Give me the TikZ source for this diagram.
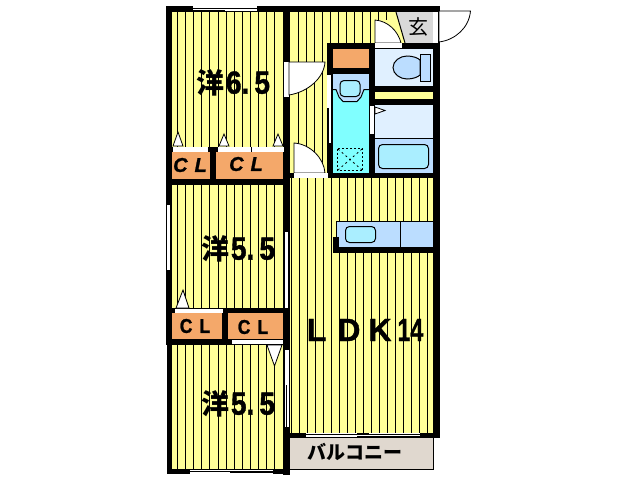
\documentclass[tikz,border=0pt]{standalone}
\usepackage{fontspec}
\setmainfont{Liberation Sans}
\newfontfamily\cjk{Noto Sans CJK JP}
\newfontfamily\lbl{Liberation Sans Bold}[FakeBold=1.2,FakeStretch=0.88]
\newfontfamily\lblwide{Liberation Sans Bold}[FakeBold=1.2,FakeStretch=1.0]
\newfontfamily\lblnar{Liberation Sans Bold}[FakeBold=1.2,FakeStretch=0.72]
\newfontfamily\lblit{Liberation Sans Bold Italic}[FakeBold=1.2]
\definecolor{flooryel}{HTML}{FFFF99}
\definecolor{closet}{HTML}{F4A86A}
\definecolor{paleblue}{HTML}{E0F0FF}
\definecolor{midblue}{HTML}{BBDDFF}
\definecolor{aqua}{HTML}{80FFFF}
\definecolor{basin}{HTML}{AAEEFF}
\definecolor{genkan}{HTML}{D9D9D9}
\definecolor{balc}{HTML}{E0D8CF}
\tikzset{
  thinline/.style={draw=black,line width=1pt},
  stripe/.style={draw=black,line width=1pt},
  door/.style={fill=white,draw=black,line width=0.8pt},
  roomlabel/.style={inner sep=0pt,font=\lbl\fontsize{32}{32}\selectfont},
  cllabel/.style={inner sep=0pt,font=\lbl\fontsize{20}{20}\selectfont},
  clitlabel/.style={inner sep=0pt,font=\lblit\fontsize{20}{20}\selectfont},
}
\newcommand{\W}[4]{\fill[black] (#1,#2) rectangle (#3,#4);}
\newcommand{\Wh}[4]{\fill[white] (#1,#2) rectangle (#3,#4);}
\newcommand{\Rc}[5]{\fill[#1] (#2,#3) rectangle (#4,#5);}
\newcommand{\Yo}{{\cjk\bfseries\fontsize{28}{28}\selectfont 洋}}
\begin{document}
\begin{tikzpicture}[x=1pt,y=-1pt]
\useasboundingbox (0,0) rectangle (638,480);
% floors
\Rc{flooryel}{172}{12}{284}{470}
\Rc{flooryel}{290}{178}{434}{433}
\Rc{flooryel}{290}{12}{396}{173}
% stripes
\foreach \x in {177.5,185.6,...,276} {
  \draw[stripe] (\x,12) -- (\x,147);
  \draw[stripe] (\x,185) -- (\x,309);
  \draw[stripe] (\x,345) -- (\x,469);
}
\foreach \x in {291.5,299.5,...,433} \draw[stripe] (\x,178) -- (\x,433);
\foreach \x in {298.5,306.5,...,394} \draw[stripe] (\x,12) -- (\x,43);
\foreach \x in {298.5,306.5,314.5,322.5} \draw[stripe] (\x,43) -- (\x,173);
% genkan
\fill[flooryel] (396,12) -- (405,43) -- (375,43) -- (375,20) -- (396,20) -- cycle;
\fill[genkan] (396,12) -- (434,12) -- (434,43) -- (405,43) -- cycle;
\draw[thinline] (396,12) -- (405,43);
% closets
\Rc{closet}{172}{152}{284}{179}
\Rc{closet}{172}{313}{284}{339}
\Rc{closet}{333}{49}{369}{68}
% wet rooms
\Rc{aqua}{333}{74}{369}{173}
\Rc{paleblue}{375}{48}{433}{86}
\Rc{flooryel}{375}{92}{433}{99}
\Rc{paleblue}{375}{105}{433}{173}
\Rc{midblue}{375}{138}{433}{173}
\draw[thinline] (375,138.5) -- (433,138.5);
\draw[thinline,fill=basin,rounded corners=4pt] (378.5,144.5) rectangle (428.5,168.5);
% toilet
\draw[thinline,fill=midblue] (393,67.5) .. controls (393,61) and (400,56) .. (407,56) .. controls (413,56) and (418,58) .. (420,60) -- (420,75) .. controls (418,77) and (413,79) .. (407,79) .. controls (400,79) and (393,74) .. (393,67.5) -- cycle;
\draw[thinline,fill=midblue] (420,54.5) rectangle (430.5,81.5);
% washbasin
\fill[midblue] (333,74) -- (369,74) -- (369,89) -- (364,89) -- (361,97) -- (357,101) -- (343,101) -- (339,97) -- (336,89) -- (333,89) -- cycle;
\draw[thinline] (333,89.5) -- (336,89.5) -- (339,97) -- (343,101.5) -- (357,101.5) -- (361,97) -- (364,89.5) -- (369,89.5);
\draw[thinline,fill=basin,rounded corners=4pt] (340,80.5) rectangle (360,96.5);
% drain
\draw[line width=0.8pt,dash pattern=on 2pt off 2pt] (337.5,148.5) rectangle (362.5,170.5);
\draw[line width=0.8pt,dash pattern=on 2pt off 3pt] (338,149) -- (362,170) (362,149) -- (338,170);
% kitchen
\Rc{midblue}{336}{221}{434}{247}
\draw[thinline] (336.5,221.5) -- (434,221.5) (336.5,221) -- (336.5,240);
\draw[thinline] (400.5,221) -- (400.5,247);
\draw[thinline,fill=basin,rounded corners=4pt] (345.5,226.5) rectangle (375.5,242.5);
\W{333}{247}{434}{253}
\W{333}{237}{339}{247}
% balcony
\Rc{balc}{290}{437}{433}{469}
\draw[thinline] (290,437.5) -- (433.5,437.5) -- (433.5,469.5) -- (290,469.5);
% walls
\W{166}{6}{290}{12}
\W{290}{6}{439}{12}
\W{166}{6}{172}{345}
\W{167}{345}{172}{474}
\W{167}{469}{290}{474}
\W{283}{6}{290}{475}
% closet walls upper
\W{166}{147}{290}{152}
\W{210}{147}{216}{179}
\W{166}{179}{290}{185}
\W{166}{308}{290}{313}
\W{222}{308}{228}{345}
\W{166}{339}{290}{345}
% wet block walls
\W{327}{43}{439}{49}
\W{327}{43}{333}{178}
\W{369}{43}{375}{178}
\W{327}{68}{375}{74}
\W{375}{86}{439}{92}
\W{375}{99}{439}{105}
\W{433}{6}{440}{437}
\W{289}{173}{440}{178}
% balcony walls
\W{284}{433}{306}{438}
\W{420}{433}{440}{438}
\W{284}{433}{290}{473}
% windows
\Wh{193}{6}{257}{11}
\draw[line width=0.7pt] (193,8) -- (225,8) (193,10) -- (225,10) (225,8.5) -- (257,8.5);
\Wh{166}{205}{170}{270}
\draw[line width=0.6pt] (166.5,205) -- (166.5,270);
\Wh{190}{470}{273}{474}
\draw[line width=0.7pt] (190,471) -- (273,471) (230,472.5) -- (273,472.5);
\Wh{306}{433}{420}{437}
\draw[line width=0.7pt] (306,434.5) -- (420,434.5) (357,433) -- (369,433) (357,436) -- (420,436);
\Wh{285}{232}{288}{308}
\Wh{285}{350}{289}{427}
\draw[line width=0.6pt] (286.5,385) -- (286.5,427);
% closet sliding strips
\Wh{173}{147}{208}{152}
\Wh{218}{147}{284}{152}
\draw[line width=0.6pt] (251.5,147) -- (251.5,152);
\Wh{175}{309}{223}{313}
\Wh{232}{340}{283}{344}
% triangles
\draw[door] (173,146) -- (178,132) -- (183,146) -- cycle;
\draw[door] (219,146) -- (224,134) -- (229,146) -- cycle;
\draw[door] (273,146) -- (278,134) -- (283,146) -- cycle;
\draw[door] (176,308) -- (183,290) -- (189,308) -- cycle;
\draw[door] (267,345) -- (282,345) -- (274.5,366) -- cycle;
\draw[door] (375,107) -- (385,110.5) -- (375,114) -- cycle;
% doors
\Wh{284}{62}{289}{97}
\draw[door] (289,62) -- (325,62) .. controls (324,78) and (308,92) .. (289,95) -- cycle;
\draw[door] (294,173) -- (294,143) .. controls (310,144) and (324,158) .. (325,173) -- cycle;
\Wh{294}{173}{328}{178}
\Wh{433}{12}{438}{43}
\draw[door] (439,11) -- (470.5,11) .. controls (469,28) and (455,40) .. (439,42) -- cycle;
\draw[door] (375,43) -- (375,20) .. controls (388,21) and (398,31) .. (401,43) -- cycle;
\Wh{375}{43}{402}{48}
\Wh{370}{106}{374}{134}
\Wh{327}{75}{331}{108}
\Wh{328.5}{108}{330.5}{143}
% labels
\node[roomlabel] (r1) at (233.5,83) {\Yo\hspace{1pt}6.\hspace{5pt}5};
\node[roomlabel] (r2) at (238.5,249) {\Yo\hspace{1pt}5.\hspace{5pt}5};
\node[roomlabel] (r3) at (238.5,404) {\Yo\hspace{1pt}5.\hspace{5pt}5};
\node[inner sep=0pt,font=\lblwide\fontsize{32}{32}\selectfont] (ldk) at (365,330) {L\hspace{11pt}D\hspace{8pt}K\hspace{6pt}{\lblnar\fontsize{32}{32}\selectfont 14}};
\node[clitlabel] (c1) at (190,165) {C\hspace{7pt}L};
\node[clitlabel] (c2) at (246,164) {C\hspace{7pt}L};
\node[cllabel] (c3) at (195,326) {C\hspace{7pt}L};
\node[cllabel] (c4) at (253,327) {C\hspace{7pt}L};
\node[inner sep=0pt,font=\cjk\fontsize{20}{20}\selectfont] (gk) at (418,27) {玄};
\node[inner sep=0pt,font=\cjk\bfseries\fontsize{19}{19}\selectfont] (bal) at (355,452) {バルコニー};
\end{tikzpicture}
\end{document}
